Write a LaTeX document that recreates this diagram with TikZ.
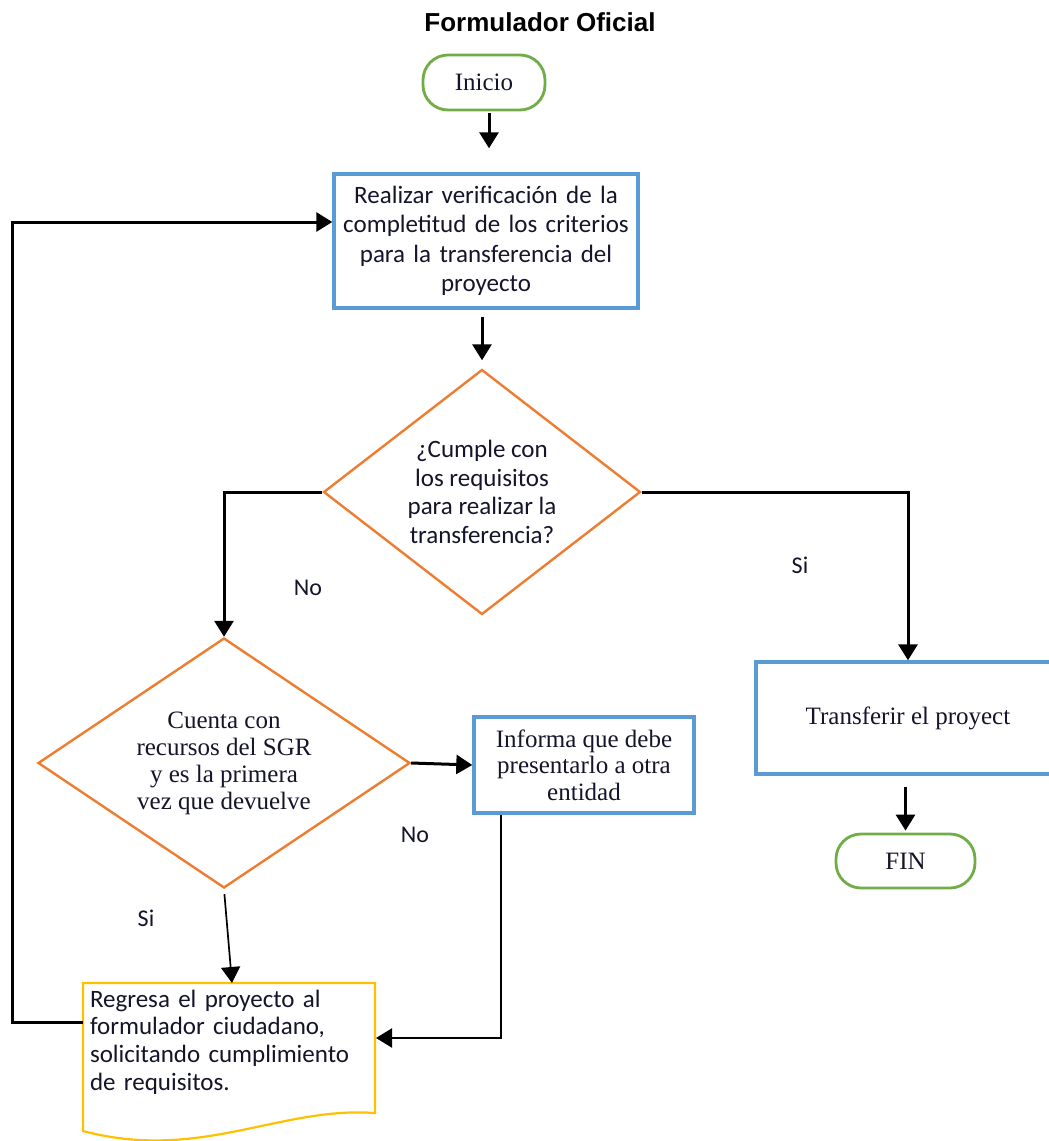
\documentclass[tikz,border=0pt]{standalone}
\usepackage{fontspec}
\setmainfont{Liberation Serif}
\newfontfamily\calib{Carlito}
\newfontfamily\arialfam{Liberation Sans}
\usetikzlibrary{arrows.meta,shapes.geometric,calc}
\definecolor{boxblue}{HTML}{5B9BD5}
\definecolor{decorange}{HTML}{ED7D31}
\definecolor{termgreen}{HTML}{70AD47}
\definecolor{docyellow}{HTML}{FFC000}
\definecolor{inkdark}{HTML}{14142A}
\begin{document}
\begin{tikzpicture}[x=1pt,y=-1pt,
  serif text/.style={font=\fontsize{25}{26.5}\selectfont, text=inkdark},
  sans text/.style={font=\calib\fontsize{25}{29}\selectfont, text=inkdark},
  procbox/.style={draw=boxblue, line width=3.4pt, align=center, inner sep=0pt},
  termbox/.style={draw=termgreen, line width=2.8pt, rounded corners=25pt, inner sep=0pt, serif text},
  decision/.style={diamond, draw=decorange, line width=2.4pt, inner sep=0pt},
  arr/.style={line width=3pt, -{Triangle[length=16pt,width=19pt]}},
  thinarr/.style={line width=1.7pt, -{Triangle[length=16pt,width=19pt]}},
  lbl/.style={font=\calib\fontsize{24}{26}\selectfont, text=inkdark}]
\useasboundingbox (0,0) rectangle (1049,1141);
\begin{scope}
\clip (0,0) rectangle (1049,1141);

% title
\node[font=\arialfam\bfseries\fontsize{26}{30}\selectfont] (title) at (540,22) {Formulador Oficial};

% terminals
\node[termbox, minimum width=122pt, minimum height=55pt] (inicio) at (484,82.5) {Inicio};
\node[termbox, minimum width=139pt, minimum height=54pt] (fin) at (905.5,861) {FIN};

% process boxes
\node[procbox, sans text, minimum width=304pt, minimum height=134pt, text width=290pt, font=\calib\fontsize{25}{29.5}\selectfont] (box1) at (486,241)
  {Realizar verificación de la\\completitud de los criterios\\para la transferencia del\\proyecto};
\node[procbox, serif text, minimum width=220pt, minimum height=96pt] (informa) at (584,765)
  {Informa que debe\\presentarlo a otra\\entidad};
\node[procbox, serif text, minimum width=304pt, minimum height=112pt] (transfer) at (908,718)
  {\raisebox{-3pt}{Transferir el proyect}};

% decisions
\node[decision, minimum width=317pt, minimum height=245pt,
  label={[sans text, align=center, font=\calib\fontsize{25}{28.5}\selectfont]center:{¿Cumple con\\los requisitos\\para realizar la\\transferencia?}}] (d1) at (482,492) {};
\node[decision, minimum width=372pt, minimum height=250pt,
  label={[serif text, align=center, font=\fontsize{25}{27}\selectfont]center:{Cuenta con\\recursos del SGR\\y es la primera\\vez que devuelve}}] (d2) at (224,763) {};

% document shape with wavy bottom
\node[sans text, minimum width=292pt, minimum height=110pt, text width=278pt, inner xsep=7pt, inner ysep=0pt, align=left, font=\calib\fontsize{25}{27.7}\selectfont] (regresa) at (229,1042)
  {Regresa el proyecto al\\formulador ciudadano,\\solicitando cumplimiento\\de requisitos.};
\draw[docyellow, line width=2.2pt]
  (83,983) -- (375,983) -- (375,1113)
  .. controls (280,1106) and (200,1162) .. (83,1131) -- cycle;
\coordinate (regR) at (376,1038);
\coordinate (regT) at (232,983);
\coordinate (regL) at (83,1022);

% branch labels
\node[lbl] (no1) at (308,588) {No};
\node[lbl] (si1) at (800,565) {Si};
\node[lbl] (no2) at (415,835) {No};
\node[lbl] (si2) at (146,918) {Si};

% connectors
\coordinate (loopc) at (12,222);
\draw[arr, shorten <=2pt, shorten >=24pt] (inicio.south -| 489,0) -- (box1.north -| 489,0);
\draw[arr, shorten <=7pt, shorten >=8pt] (box1.south -| 482,0) -- (d1.north);
\draw[arr] (d1.west) -| (d2.north);
\draw[arr] (d1.east) -| (transfer.north);
\draw[arr, shorten <=11pt, shorten >=2pt] (transfer.south -| fin.north) -- (fin.north);
\draw[arr] (d2.east) -- (informa.west);
\draw[thinarr, shorten <=5pt] (d2.south) -- (regT);
\draw[line width=2.2pt, -{Triangle[length=16pt,width=19pt]}] ([xshift=29pt]informa.south west) |- (regR);
\draw[arr] (regL) -| (loopc) -- (box1.west |- loopc);
\end{scope}
\end{tikzpicture}
\end{document}
